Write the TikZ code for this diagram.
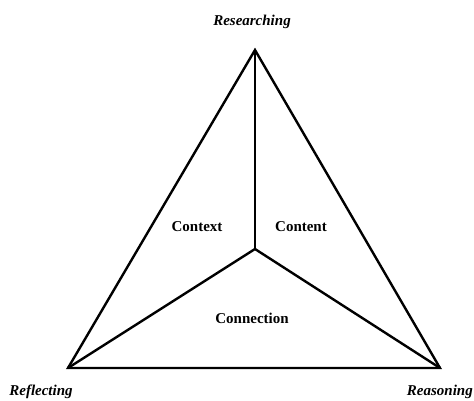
\documentclass[tikz,border=0pt]{standalone}
\usepackage{fontspec}
\setmainfont{Liberation Serif}
\usetikzlibrary{
    positioning,
    calc
}
\tikzset{
    canto/.style={font=\fontsize{15}{18}\selectfont\bfseries\itshape},
    area/.style={font=\fontsize{15}{18}\selectfont\bfseries},
    lado/.style={line width=2.4pt, line join=miter}
}

\begin{document}
\begin{tikzpicture}[x=1pt, y=-1pt]

                \useasboundingbox (0,0) rectangle (474,400);

                % vertices do triangulo
                \coordinate (topo) at (255,50);
                \coordinate (esq) at (68,368);
                \coordinate (dir) at (440,368);
                \coordinate (meio) at (255,249);

                \draw[lado] (topo) -- (esq) -- (dir) -- cycle;
                \draw[lado] (topo) -- (meio);
                \draw[lado] (esq) -- (meio) -- (dir);

                % rotulos dos cantos
                \node[canto] (pesquisa) at (252,22) {Researching};
                \node[canto] (reflexao) at (41,392) {Reflecting};
                \node[canto, anchor=east, inner xsep=1pt] (raciocinio) at (474,392) {Reasoning};

                % rotulos das areas
                \node[area] (contexto) at (197,227) {Context};
                \node[area] (conteudo) at (301,227) {Content};
                \node[area] (conexao) at (252,318) {Connection};

            \end{tikzpicture}
\end{document}
